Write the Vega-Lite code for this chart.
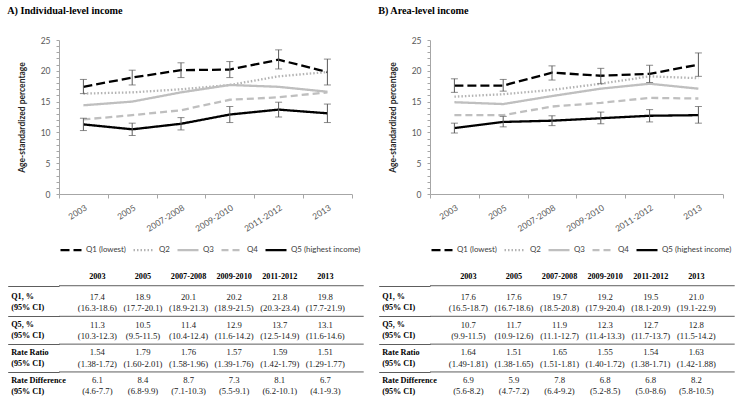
{
  "$schema": "https://vega.github.io/schema/vega-lite/v6.json",
  "padding": {"left": 7, "top": 5, "right": 0, "bottom": 0},
  "background": "white",
  "datasets": {
    "lines": [
      {"panel": "A", "year": "2003", "q": "Q1 (lowest)", "v": 17.4, "lo": 16.3, "hi": 18.6},
      {"panel": "A", "year": "2005", "q": "Q1 (lowest)", "v": 18.9, "lo": 17.7, "hi": 20.1},
      {"panel": "A", "year": "2007-2008", "q": "Q1 (lowest)", "v": 20.1, "lo": 18.9, "hi": 21.3},
      {"panel": "A", "year": "2009-2010", "q": "Q1 (lowest)", "v": 20.2, "lo": 18.9, "hi": 21.5},
      {"panel": "A", "year": "2011-2012", "q": "Q1 (lowest)", "v": 21.8, "lo": 20.3, "hi": 23.4},
      {"panel": "A", "year": "2013", "q": "Q1 (lowest)", "v": 19.8, "lo": 17.7, "hi": 21.9},
      {"panel": "A", "year": "2003", "q": "Q2", "v": 16.3},
      {"panel": "A", "year": "2005", "q": "Q2", "v": 16.5},
      {"panel": "A", "year": "2007-2008", "q": "Q2", "v": 17.0},
      {"panel": "A", "year": "2009-2010", "q": "Q2", "v": 17.7},
      {"panel": "A", "year": "2011-2012", "q": "Q2", "v": 19.1},
      {"panel": "A", "year": "2013", "q": "Q2", "v": 19.8},
      {"panel": "A", "year": "2003", "q": "Q3", "v": 14.4},
      {"panel": "A", "year": "2005", "q": "Q3", "v": 15.0},
      {"panel": "A", "year": "2007-2008", "q": "Q3", "v": 16.5},
      {"panel": "A", "year": "2009-2010", "q": "Q3", "v": 17.7},
      {"panel": "A", "year": "2011-2012", "q": "Q3", "v": 17.4},
      {"panel": "A", "year": "2013", "q": "Q3", "v": 16.6},
      {"panel": "A", "year": "2003", "q": "Q4", "v": 12.1},
      {"panel": "A", "year": "2005", "q": "Q4", "v": 12.8},
      {"panel": "A", "year": "2007-2008", "q": "Q4", "v": 13.6},
      {"panel": "A", "year": "2009-2010", "q": "Q4", "v": 15.3},
      {"panel": "A", "year": "2011-2012", "q": "Q4", "v": 15.7},
      {"panel": "A", "year": "2013", "q": "Q4", "v": 16.5},
      {"panel": "A", "year": "2003", "q": "Q5 (highest income)", "v": 11.3, "lo": 10.3, "hi": 12.3},
      {"panel": "A", "year": "2005", "q": "Q5 (highest income)", "v": 10.5, "lo": 9.5, "hi": 11.5},
      {"panel": "A", "year": "2007-2008", "q": "Q5 (highest income)", "v": 11.4, "lo": 10.4, "hi": 12.4},
      {"panel": "A", "year": "2009-2010", "q": "Q5 (highest income)", "v": 12.9, "lo": 11.6, "hi": 14.2},
      {"panel": "A", "year": "2011-2012", "q": "Q5 (highest income)", "v": 13.7, "lo": 12.5, "hi": 14.9},
      {"panel": "A", "year": "2013", "q": "Q5 (highest income)", "v": 13.1, "lo": 11.6, "hi": 14.6},
      {"panel": "B", "year": "2003", "q": "Q1 (lowest)", "v": 17.6, "lo": 16.5, "hi": 18.7},
      {"panel": "B", "year": "2005", "q": "Q1 (lowest)", "v": 17.6, "lo": 16.7, "hi": 18.6},
      {"panel": "B", "year": "2007-2008", "q": "Q1 (lowest)", "v": 19.7, "lo": 18.5, "hi": 20.8},
      {"panel": "B", "year": "2009-2010", "q": "Q1 (lowest)", "v": 19.2, "lo": 17.9, "hi": 20.4},
      {"panel": "B", "year": "2011-2012", "q": "Q1 (lowest)", "v": 19.5, "lo": 18.1, "hi": 20.9},
      {"panel": "B", "year": "2013", "q": "Q1 (lowest)", "v": 21.0, "lo": 19.1, "hi": 22.9},
      {"panel": "B", "year": "2003", "q": "Q2", "v": 15.8},
      {"panel": "B", "year": "2005", "q": "Q2", "v": 16.2},
      {"panel": "B", "year": "2007-2008", "q": "Q2", "v": 16.9},
      {"panel": "B", "year": "2009-2010", "q": "Q2", "v": 17.9},
      {"panel": "B", "year": "2011-2012", "q": "Q2", "v": 19.1},
      {"panel": "B", "year": "2013", "q": "Q2", "v": 18.8},
      {"panel": "B", "year": "2003", "q": "Q3", "v": 14.9},
      {"panel": "B", "year": "2005", "q": "Q3", "v": 14.6},
      {"panel": "B", "year": "2007-2008", "q": "Q3", "v": 15.9},
      {"panel": "B", "year": "2009-2010", "q": "Q3", "v": 17.1},
      {"panel": "B", "year": "2011-2012", "q": "Q3", "v": 17.9},
      {"panel": "B", "year": "2013", "q": "Q3", "v": 17.1},
      {"panel": "B", "year": "2003", "q": "Q4", "v": 12.8},
      {"panel": "B", "year": "2005", "q": "Q4", "v": 12.8},
      {"panel": "B", "year": "2007-2008", "q": "Q4", "v": 14.2},
      {"panel": "B", "year": "2009-2010", "q": "Q4", "v": 14.8},
      {"panel": "B", "year": "2011-2012", "q": "Q4", "v": 15.6},
      {"panel": "B", "year": "2013", "q": "Q4", "v": 15.5},
      {"panel": "B", "year": "2003", "q": "Q5 (highest income)", "v": 10.7, "lo": 9.9, "hi": 11.5},
      {"panel": "B", "year": "2005", "q": "Q5 (highest income)", "v": 11.7, "lo": 10.9, "hi": 12.6},
      {"panel": "B", "year": "2007-2008", "q": "Q5 (highest income)", "v": 11.9, "lo": 11.1, "hi": 12.7},
      {"panel": "B", "year": "2009-2010", "q": "Q5 (highest income)", "v": 12.3, "lo": 11.4, "hi": 13.3},
      {"panel": "B", "year": "2011-2012", "q": "Q5 (highest income)", "v": 12.7, "lo": 11.7, "hi": 13.7},
      {"panel": "B", "year": "2013", "q": "Q5 (highest income)", "v": 12.8, "lo": 11.5, "hi": 14.2}
    ],
    "table": [
      {"panel": "A", "row": "hdr", "2003": "2003", "2005": "2005", "2007-2008": "2007-2008", "2009-2010": "2009-2010", "2011-2012": "2011-2012", "2013": "2013"},
      {"panel": "A", "row": "q1", "2003": "17.4", "2005": "18.9", "2007-2008": "20.1", "2009-2010": "20.2", "2011-2012": "21.8", "2013": "19.8"},
      {"panel": "A", "row": "q1ci", "2003": "(16.3-18.6)", "2005": "(17.7-20.1)", "2007-2008": "(18.9-21.3)", "2009-2010": "(18.9-21.5)", "2011-2012": "(20.3-23.4)", "2013": "(17.7-21.9)"},
      {"panel": "A", "row": "q5", "2003": "11.3", "2005": "10.5", "2007-2008": "11.4", "2009-2010": "12.9", "2011-2012": "13.7", "2013": "13.1"},
      {"panel": "A", "row": "q5ci", "2003": "(10.3-12.3)", "2005": "(9.5-11.5)", "2007-2008": "(10.4-12.4)", "2009-2010": "(11.6-14.2)", "2011-2012": "(12.5-14.9)", "2013": "(11.6-14.6)"},
      {"panel": "A", "row": "rr", "2003": "1.54", "2005": "1.79", "2007-2008": "1.76", "2009-2010": "1.57", "2011-2012": "1.59", "2013": "1.51"},
      {"panel": "A", "row": "rrci", "2003": "(1.38-1.72)", "2005": "(1.60-2.01)", "2007-2008": "(1.58-1.96)", "2009-2010": "(1.39-1.76)", "2011-2012": "(1.42-1.79)", "2013": "(1.29-1.77)"},
      {"panel": "A", "row": "rd", "2003": "6.1", "2005": "8.4", "2007-2008": "8.7", "2009-2010": "7.3", "2011-2012": "8.1", "2013": "6.7"},
      {"panel": "A", "row": "rdci", "2003": "(4.6-7.7)", "2005": "(6.8-9.9)", "2007-2008": "(7.1-10.3)", "2009-2010": "(5.5-9.1)", "2011-2012": "(6.2-10.1)", "2013": "(4.1-9.3)"},
      {"panel": "B", "row": "hdr", "2003": "2003", "2005": "2005", "2007-2008": "2007-2008", "2009-2010": "2009-2010", "2011-2012": "2011-2012", "2013": "2013"},
      {"panel": "B", "row": "q1", "2003": "17.6", "2005": "17.6", "2007-2008": "19.7", "2009-2010": "19.2", "2011-2012": "19.5", "2013": "21.0"},
      {"panel": "B", "row": "q1ci", "2003": "(16.5-18.7)", "2005": "(16.7-18.6)", "2007-2008": "(18.5-20.8)", "2009-2010": "(17.9-20.4)", "2011-2012": "(18.1-20.9)", "2013": "(19.1-22.9)"},
      {"panel": "B", "row": "q5", "2003": "10.7", "2005": "11.7", "2007-2008": "11.9", "2009-2010": "12.3", "2011-2012": "12.7", "2013": "12.8"},
      {"panel": "B", "row": "q5ci", "2003": "(9.9-11.5)", "2005": "(10.9-12.6)", "2007-2008": "(11.1-12.7)", "2009-2010": "(11.4-13.3)", "2011-2012": "(11.7-13.7)", "2013": "(11.5-14.2)"},
      {"panel": "B", "row": "rr", "2003": "1.64", "2005": "1.51", "2007-2008": "1.65", "2009-2010": "1.55", "2011-2012": "1.54", "2013": "1.63"},
      {"panel": "B", "row": "rrci", "2003": "(1.49-1.81)", "2005": "(1.38-1.65)", "2007-2008": "(1.51-1.81)", "2009-2010": "(1.40-1.72)", "2011-2012": "(1.38-1.71)", "2013": "(1.42-1.88)"},
      {"panel": "B", "row": "rd", "2003": "6.9", "2005": "5.9", "2007-2008": "7.8", "2009-2010": "6.8", "2011-2012": "6.8", "2013": "8.2"},
      {"panel": "B", "row": "rdci", "2003": "(5.6-8.2)", "2005": "(4.7-7.2)", "2007-2008": "(6.4-9.2)", "2009-2010": "(5.2-8.5)", "2011-2012": "(5.0-8.6)", "2013": "(5.8-10.5)"}
    ],
    "seps": [{"row": "s0"}, {"row": "s1"}, {"row": "s2"}, {"row": "s3"}]
  },
  "hconcat": [
    {
      "concat": [
        {
          "title": {"text": "A) Individual-level income"},
          "width": 292.8, "height": 154,
          "data": {"name": "lines"},
          "transform": [{"filter": "datum.panel === 'A'"}],
          "encoding": {
            "x": {"field": "year", "type": "ordinal", "scale": {"type": "band", "paddingInner": 0, "paddingOuter": 0, "domain": ["2003", "2005", "2007-2008", "2009-2010", "2011-2012", "2013"]},
                  "axis": {"title": null, "labelAngle": -32, "tickBand": "extent", "tickSize": 4, "labelPadding": 5}}
          },
          "layer": [
            {"mark": {"type": "line", "strokeWidth": 2.3},
             "encoding": {
               "y": {"field": "v", "type": "quantitative", "scale": {"domain": [0, 25], "nice": false},
                     "axis": {"title": "Age-standardized percentage", "tickCount": 25, "labelExpr": "datum.value % 5 === 0 ? format(datum.value, 'd') : ''", "labelOverlap": false, "labelAlign": "right", "labelBaseline": "middle", "labelAngle": 0, "tickSize": 3, "labelPadding": 6, "titlePadding": 14}},
               "color": {"field": "q", "type": "nominal", "scale": {"domain": ["Q1 (lowest)", "Q2", "Q3", "Q4", "Q5 (highest income)"], "range": ["#000000", "#b3b3b3", "#bfbfbf", "#bfbfbf", "#000000"]},
                         "legend": {"title": null, "orient": "bottom", "direction": "horizontal", "symbolType": "stroke", "symbolSize": 441, "symbolStrokeWidth": 2.3, "labelOffset": 3, "columnPadding": 2, "offset": 5}},
               "strokeDash": {"field": "q", "type": "nominal", "scale": {"domain": ["Q1 (lowest)", "Q2", "Q3", "Q4", "Q5 (highest income)"], "range": [[9, 4], [1.5, 2], [1, 0], [7, 4], [1, 0]]},
                         "legend": {"title": null, "orient": "bottom", "direction": "horizontal", "symbolType": "stroke", "symbolSize": 441, "symbolStrokeWidth": 2.3, "labelOffset": 3, "columnPadding": 2, "offset": 5}}
             }},
            {"transform": [{"filter": "isValid(datum.lo)"}], "mark": {"type": "rule", "color": "#5a5a5a", "strokeWidth": 1},
             "encoding": {"y": {"field": "lo", "type": "quantitative"}, "y2": {"field": "hi"}}},
            {"transform": [{"filter": "isValid(datum.lo)"}], "mark": {"type": "tick", "color": "#5a5a5a", "thickness": 1, "size": 7},
             "encoding": {"y": {"field": "lo", "type": "quantitative"}}},
            {"transform": [{"filter": "isValid(datum.hi)"}], "mark": {"type": "tick", "color": "#5a5a5a", "thickness": 1, "size": 7},
             "encoding": {"y": {"field": "hi", "type": "quantitative"}}}
          ]
        },
        {
          "width": 304.7, "height": 116.8,
          "layer": [
            {"data": {"name": "table"},
             "transform": [{"filter": "datum.panel === 'A' && datum.row === 'hdr'"}, {"fold": ["2003", "2005", "2007-2008", "2009-2010", "2011-2012", "2013"]}],
             "mark": {"type": "text", "font": "Liberation Serif", "fontWeight": "bold", "fontSize": 8.2, "color": "#000"},
             "encoding": {"x": {"field": "key", "type": "ordinal", "scale": {"type": "point", "domain": ["2003", "2005", "2007-2008", "2009-2010", "2011-2012", "2013"], "padding": 0.841}, "axis": null},
                          "y": {"field": "row", "type": "ordinal", "scale": {"type": "point", "padding": 0.5, "domain": ["hdr","f1","f2","s0","f4","f5","f6","q1","f8","f9","f10","q1ci","f12","f13","s1","f15","f16","q5","f18","f19","f20","q5ci","f22","f23","s2","f25","f26","rr","f28","f29","f30","rrci","f32","f33","s3","f35","f36","rd","f38","f39","f40","rdci"]},
                                "axis": {"title": null, "domain": false, "values": ["hdr","s0","q1","q1ci","s1","q5","q5ci","s2","rr","rrci","s3","rd","rdci"],
                                         "tickSize": 51.3, "tickWidth": 0.8,
                                         "tickColor": {"condition": {"test": "indexof(['s0','s1','s2','s3'], datum.value) >= 0", "value": "#333333"}, "value": "transparent"},
                                         "labelAlign": "left", "labelBaseline": "middle", "labelPadding": -3, "labelOverlap": false,
                                         "labelFont": "Liberation Serif", "labelFontWeight": "bold", "labelFontSize": 8.2, "labelColor": "#000000",
                                         "labelExpr": "datum.value === 'q1' ? 'Q1, %' : datum.value === 'q5' ? 'Q5, %' : datum.value === 'rr' ? 'Rate Ratio' : datum.value === 'rd' ? 'Rate Difference' : indexof(['q1ci','q5ci','rrci','rdci'], datum.value) >= 0 ? '(95% CI)' : ''"}},
                          "text": {"field": "value"}}},
            {"data": {"name": "table"},
             "transform": [{"filter": "datum.panel === 'A' && datum.row !== 'hdr'"}, {"fold": ["2003", "2005", "2007-2008", "2009-2010", "2011-2012", "2013"]}],
             "mark": {"type": "text", "font": "Liberation Serif", "fontSize": 8.7, "color": "#1a1a1a"},
             "encoding": {"x": {"field": "key", "type": "ordinal"}, "y": {"field": "row", "type": "ordinal"}, "text": {"field": "value"}}},
            {"data": {"name": "seps"},
             "mark": {"type": "rule", "color": "#333333", "strokeWidth": 0.8},
             "encoding": {"y": {"field": "row", "type": "ordinal"}}}
          ]
        }
      ],
      "columns": 1, "spacing": 17,
      "resolve": {"scale": {"x": "independent", "y": "independent", "color": "independent", "strokeDash": "independent"}, "legend": {"color": "independent", "strokeDash": "independent"}}
    },
    {
      "concat": [
        {
          "title": {"text": "B) Area-level income"},
          "width": 292.8, "height": 154,
          "data": {"name": "lines"},
          "transform": [{"filter": "datum.panel === 'B'"}],
          "encoding": {
            "x": {"field": "year", "type": "ordinal", "scale": {"type": "band", "paddingInner": 0, "paddingOuter": 0, "domain": ["2003", "2005", "2007-2008", "2009-2010", "2011-2012", "2013"]},
                  "axis": {"title": null, "labelAngle": -32, "tickBand": "extent", "tickSize": 4, "labelPadding": 5}}
          },
          "layer": [
            {"mark": {"type": "line", "strokeWidth": 2.3},
             "encoding": {
               "y": {"field": "v", "type": "quantitative", "scale": {"domain": [0, 25], "nice": false},
                     "axis": {"title": "Age-standardized percentage", "tickCount": 25, "labelExpr": "datum.value % 5 === 0 ? format(datum.value, 'd') : ''", "labelOverlap": false, "labelAlign": "right", "labelBaseline": "middle", "labelAngle": 0, "tickSize": 3, "labelPadding": 6, "titlePadding": 14}},
               "color": {"field": "q", "type": "nominal", "scale": {"domain": ["Q1 (lowest)", "Q2", "Q3", "Q4", "Q5 (highest income)"], "range": ["#000000", "#b3b3b3", "#bfbfbf", "#bfbfbf", "#000000"]},
                         "legend": {"title": null, "orient": "bottom", "direction": "horizontal", "symbolType": "stroke", "symbolSize": 441, "symbolStrokeWidth": 2.3, "labelOffset": 3, "columnPadding": 2, "offset": 5}},
               "strokeDash": {"field": "q", "type": "nominal", "scale": {"domain": ["Q1 (lowest)", "Q2", "Q3", "Q4", "Q5 (highest income)"], "range": [[9, 4], [1.5, 2], [1, 0], [7, 4], [1, 0]]},
                         "legend": {"title": null, "orient": "bottom", "direction": "horizontal", "symbolType": "stroke", "symbolSize": 441, "symbolStrokeWidth": 2.3, "labelOffset": 3, "columnPadding": 2, "offset": 5}}
             }},
            {"transform": [{"filter": "isValid(datum.lo)"}], "mark": {"type": "rule", "color": "#5a5a5a", "strokeWidth": 1},
             "encoding": {"y": {"field": "lo", "type": "quantitative"}, "y2": {"field": "hi"}}},
            {"transform": [{"filter": "isValid(datum.lo)"}], "mark": {"type": "tick", "color": "#5a5a5a", "thickness": 1, "size": 7},
             "encoding": {"y": {"field": "lo", "type": "quantitative"}}},
            {"transform": [{"filter": "isValid(datum.hi)"}], "mark": {"type": "tick", "color": "#5a5a5a", "thickness": 1, "size": 7},
             "encoding": {"y": {"field": "hi", "type": "quantitative"}}}
          ]
        },
        {
          "width": 304.7, "height": 116.8,
          "layer": [
            {"data": {"name": "table"},
             "transform": [{"filter": "datum.panel === 'B' && datum.row === 'hdr'"}, {"fold": ["2003", "2005", "2007-2008", "2009-2010", "2011-2012", "2013"]}],
             "mark": {"type": "text", "font": "Liberation Serif", "fontWeight": "bold", "fontSize": 8.2, "color": "#000"},
             "encoding": {"x": {"field": "key", "type": "ordinal", "scale": {"type": "point", "domain": ["2003", "2005", "2007-2008", "2009-2010", "2011-2012", "2013"], "padding": 0.841}, "axis": null},
                          "y": {"field": "row", "type": "ordinal", "scale": {"type": "point", "padding": 0.5, "domain": ["hdr","f1","f2","s0","f4","f5","f6","q1","f8","f9","f10","q1ci","f12","f13","s1","f15","f16","q5","f18","f19","f20","q5ci","f22","f23","s2","f25","f26","rr","f28","f29","f30","rrci","f32","f33","s3","f35","f36","rd","f38","f39","f40","rdci"]},
                                "axis": {"title": null, "domain": false, "values": ["hdr","s0","q1","q1ci","s1","q5","q5ci","s2","rr","rrci","s3","rd","rdci"],
                                         "tickSize": 51.3, "tickWidth": 0.8,
                                         "tickColor": {"condition": {"test": "indexof(['s0','s1','s2','s3'], datum.value) >= 0", "value": "#333333"}, "value": "transparent"},
                                         "labelAlign": "left", "labelBaseline": "middle", "labelPadding": -3, "labelOverlap": false,
                                         "labelFont": "Liberation Serif", "labelFontWeight": "bold", "labelFontSize": 8.2, "labelColor": "#000000",
                                         "labelExpr": "datum.value === 'q1' ? 'Q1, %' : datum.value === 'q5' ? 'Q5, %' : datum.value === 'rr' ? 'Rate Ratio' : datum.value === 'rd' ? 'Rate Difference' : indexof(['q1ci','q5ci','rrci','rdci'], datum.value) >= 0 ? '(95% CI)' : ''"}},
                          "text": {"field": "value"}}},
            {"data": {"name": "table"},
             "transform": [{"filter": "datum.panel === 'B' && datum.row !== 'hdr'"}, {"fold": ["2003", "2005", "2007-2008", "2009-2010", "2011-2012", "2013"]}],
             "mark": {"type": "text", "font": "Liberation Serif", "fontSize": 8.7, "color": "#1a1a1a"},
             "encoding": {"x": {"field": "key", "type": "ordinal"}, "y": {"field": "row", "type": "ordinal"}, "text": {"field": "value"}}},
            {"data": {"name": "seps"},
             "mark": {"type": "rule", "color": "#333333", "strokeWidth": 0.8},
             "encoding": {"y": {"field": "row", "type": "ordinal"}}}
          ]
        }
      ],
      "columns": 1, "spacing": 17,
      "resolve": {"scale": {"x": "independent", "y": "independent", "color": "independent", "strokeDash": "independent"}, "legend": {"color": "independent", "strokeDash": "independent"}}
    }
  ],
  "spacing": 13,
  "resolve": {"scale": {"x": "independent", "y": "independent", "color": "independent", "strokeDash": "independent"}, "legend": {"color": "independent", "strokeDash": "independent"}},
  "config": {
    "view": {"stroke": null},
    "font": "Lato",
    "title": {"anchor": "start", "frame": "bounds", "dx": -10, "font": "Liberation Serif", "fontSize": 10.2, "fontWeight": "bold", "color": "#000000", "offset": 20},
    "axis": {"grid": false, "domainColor": "#a6a6a6", "tickColor": "#a6a6a6", "labelFont": "Lato", "labelFontSize": 8.5, "labelColor": "#595959", "titleFont": "Lato", "titleFontSize": 8.5, "titleFontWeight": "bold", "titleColor": "#262626"},
    "legend": {"labelFont": "Lato", "labelFontSize": 7.9, "labelColor": "#404040"}
  }
}
